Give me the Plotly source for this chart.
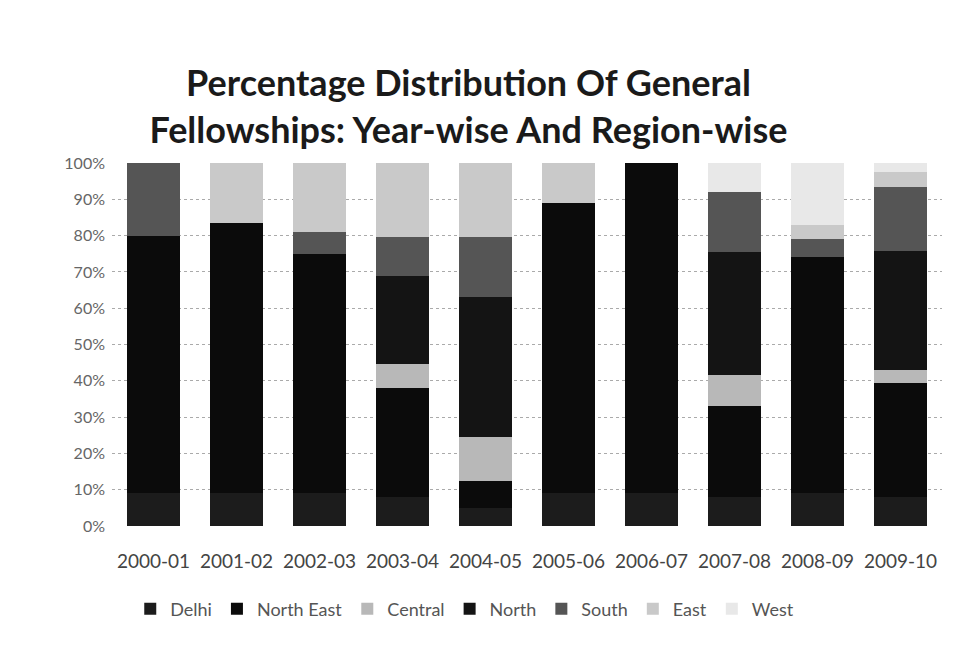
import plotly.graph_objects as go

years = ["2000-01", "2001-02", "2002-03", "2003-04", "2004-05",
         "2005-06", "2006-07", "2007-08", "2008-09", "2009-10"]

delhi      = [0.09, 0.09, 0.09, 0.08, 0.05, 0.09, 0.09, 0.08, 0.09, 0.08]
north_east = [0.71, 0.745, 0.66, 0.30, 0.075, 0.80, 0.91, 0.25, 0.65, 0.315]
central    = [0.0, 0.0, 0.0, 0.065, 0.12, 0.0, 0.0, 0.087, 0.0, 0.035]
north      = [0.0, 0.0, 0.0, 0.245, 0.385, 0.0, 0.0, 0.337, 0.0, 0.327]
south      = [0.20, 0.0, 0.06, 0.105, 0.165, 0.0, 0.0, 0.166, 0.05, 0.177]
east       = [0.0, 0.165, 0.19, 0.205, 0.205, 0.11, 0.0, 0.0, 0.04, 0.04]
west       = [0.0, 0.0, 0.0, 0.0, 0.0, 0.0, 0.0, 0.08, 0.17, 0.026]

series_names = ["Delhi", "North East", "Central", "North", "South", "East", "West"]
series_vals = [delhi, north_east, central, north, south, east, west]
colors = ["#1c1c1c", "#0b0b0b", "#b8b8b8", "#141414", "#555555", "#c9c9c9", "#e8e8e8"]

fig = go.Figure()
for name, vals, col in zip(series_names, series_vals, colors):
    fig.add_trace(go.Bar(x=years, y=vals, name=name, marker_color=col,
                         marker_line_width=0))

fig.update_layout(
    barmode="stack",
    bargap=0.37,
    width=960, height=650,
    paper_bgcolor="white", plot_bgcolor="white",
    margin=dict(l=112, r=18, t=163, b=124),
    font=dict(family="Lato, Open Sans, sans-serif", color="#555555", size=16),
    title=dict(
        text="<b>Percentage Distribution Of General<br>Fellowships: Year-wise And Region-wise</b>",
        x=0.488, xanchor="center", y=0.852, yanchor="top",
        font=dict(family="Lato, Open Sans, sans-serif", size=36, color="#1a1a1a"),
    ),
    legend=dict(orientation="h", x=0.425, xanchor="center", y=-0.178, yanchor="top",
                font=dict(size=18, color="#555555"), traceorder="normal",
                itemwidth=30),
    showlegend=True,
)
fig.update_yaxes(range=[0, 1.0], tickformat=".0%", dtick=0.1,
                 showgrid=True, gridcolor="#aaaaaa", griddash="dot", gridwidth=1,
                 zeroline=False, ticks="", ticklabelstandoff=6,
                 tickfont=dict(size=16, color="#666666"))
fig.update_xaxes(type="category", showgrid=False, ticks="",
                 tickfont=dict(size=19, color="#444444"),
                 ticklabelstandoff=22, showline=False)

fig.write_html("out.html")
